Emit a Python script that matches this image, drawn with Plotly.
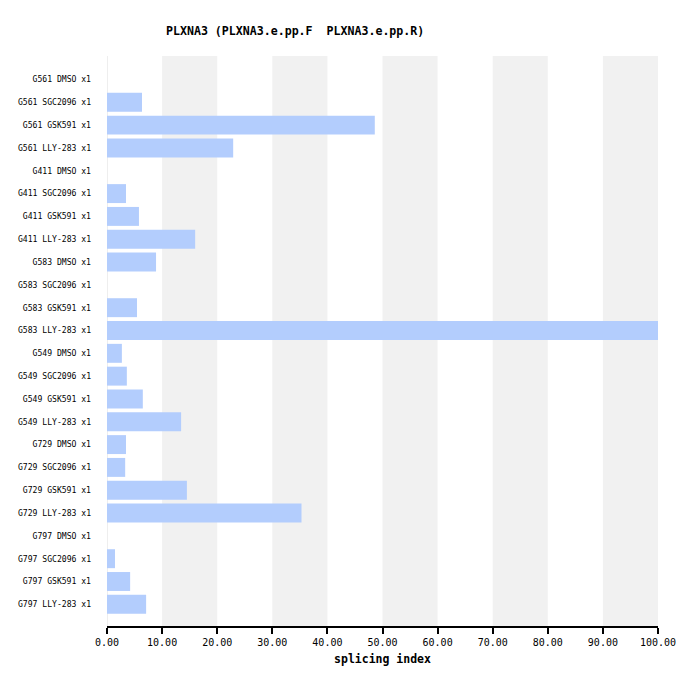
import plotly.graph_objects as go

categories = [
    "G561 DMSO x1", "G561 SGC2096 x1", "G561 GSK591 x1", "G561 LLY-283 x1",
    "G411 DMSO x1", "G411 SGC2096 x1", "G411 GSK591 x1", "G411 LLY-283 x1",
    "G583 DMSO x1", "G583 SGC2096 x1", "G583 GSK591 x1", "G583 LLY-283 x1",
    "G549 DMSO x1", "G549 SGC2096 x1", "G549 GSK591 x1", "G549 LLY-283 x1",
    "G729 DMSO x1", "G729 SGC2096 x1", "G729 GSK591 x1", "G729 LLY-283 x1",
    "G797 DMSO x1", "G797 SGC2096 x1", "G797 GSK591 x1", "G797 LLY-283 x1",
]
values = [
    0, 6.35, 48.6, 22.9,
    0, 3.45, 5.8, 16.0,
    8.9, 0, 5.45, 100.0,
    2.7, 3.6, 6.5, 13.45,
    3.45, 3.3, 14.5, 35.3,
    0, 1.45, 4.2, 7.1,
]
x_ticks = [0, 10, 20, 30, 40, 50, 60, 70, 80, 90, 100]
x_tick_labels = ["%.2f" % v for v in x_ticks]
stripe_starts = [10, 30, 50, 70, 90]

FONT = "DejaVu Sans Mono"
OFF = 8  # page body margin offset

fig = go.Figure()
fig.add_trace(go.Bar(
    y=categories, x=values, orientation="h",
    marker=dict(color="#b3cdfd", line=dict(width=0)),
    width=0.83,
))

shapes = []
for s in stripe_starts:
    shapes.append(dict(type="rect", xref="x", yref="paper", x0=s, x1=s + 10,
                       y0=0, y1=1, fillcolor="#f1f1f1", line=dict(width=0),
                       layer="below"))
shapes.append(dict(type="line", xref="x", yref="paper", x0=0, x1=0, y0=0, y1=1,
                   line=dict(color="#eeeeee", width=2), layer="below"))

fig.update_layout(
    width=697, height=686,
    margin=dict(l=107 - OFF, r=39 + OFF, t=56 - OFF, b=60 + OFF),
    paper_bgcolor="white", plot_bgcolor="white",
    showlegend=False,
    shapes=shapes,
    title=dict(text="<b>PLXNA3 (PLXNA3.e.pp.F \u00a0PLXNA3.e.pp.R)</b>",
               x=(166 - OFF) / 697, xanchor="left", xref="container",
               y=1 - (31 - OFF) / 686, yanchor="middle", yref="container",
               font=dict(family=FONT, size=11.6, color="black")),
    font=dict(family=FONT, color="black"),
    xaxis=dict(
        range=[0, 100], tickvals=x_ticks, ticktext=x_tick_labels,
        ticks="outside", ticklen=6, tickwidth=2, tickcolor="black",
        showline=True, linecolor="black", linewidth=2,
        showgrid=False, zeroline=False, automargin=False,
        tickfont=dict(family=FONT, size=10),
        title=dict(text="<b>splicing index</b>", standoff=8,
                   font=dict(family=FONT, size=11.5)),
    ),
    yaxis=dict(
        categoryorder="array", categoryarray=categories,
        range=[23.95, -1.03],
        showgrid=False, zeroline=False, showline=False, ticks="",
        ticklabelstandoff=15, automargin=False,
        tickfont=dict(family=FONT, size=8.1),
    ),
)

fig.write_html("out.html")
